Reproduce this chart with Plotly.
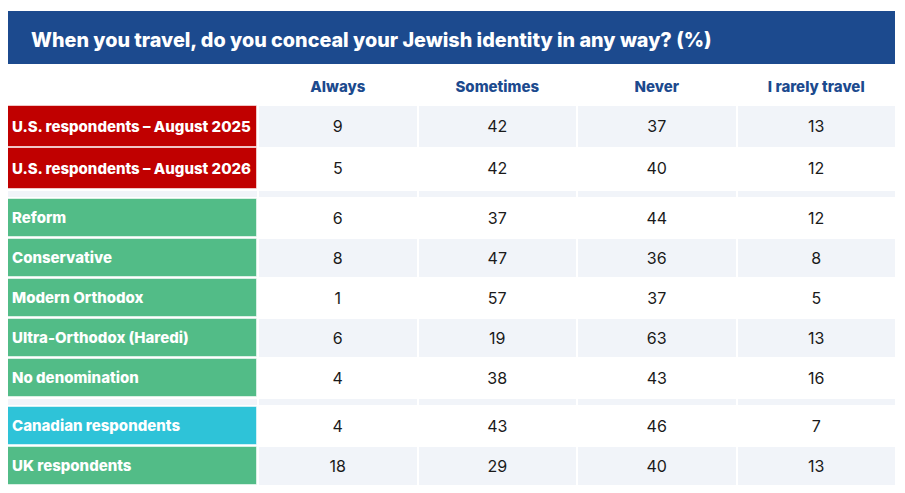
import plotly.graph_objects as go

title = "When you travel, do you conceal your Jewish identity in any way? (%)"
columns = ["Always", "Sometimes", "Never", "I rarely travel"]
row_labels = [
    "U.S. respondents – August 2025",
    "U.S. respondents – August 2026",
    "Reform",
    "Conservative",
    "Modern Orthodox",
    "Ultra-Orthodox (Haredi)",
    "No denomination",
    "Canadian respondents",
    "UK respondents",
]
row_group = [0, 0, 1, 1, 1, 1, 1, 2, 2]
always = [9, 5, 6, 8, 1, 6, 4, 4, 18]
sometimes = [42, 42, 37, 47, 57, 19, 38, 43, 29]
never = [37, 40, 44, 36, 37, 63, 43, 46, 40]
rarely = [13, 12, 12, 8, 5, 13, 16, 7, 13]
values = [always, sometimes, never, rarely]

# ── styling ────────────────────────────────────────────────────────────────
FONT = "Inter"
BLUE = "#1c4a8e"
LIGHT = "#f1f4f9"
label_colors = ["#c00000", "#c00000", "#52bc87", "#52bc87", "#52bc87",
                "#52bc87", "#52bc87", "#2ec3d8", "#52bc87"]
group_pitch = [42, 40, 40]

# page body has an 8px margin: the figure is shrunk by it and the axis ranges
# are offset so that axis units equal window pixels
PAGE_PAD = 8
W, H = 905, 493

# ── layout geometry (window pixel units on both axes) ──────────────────────
left = 7
label_w = 250
col_gap = 2
col_w = 157.5
top = 106
spacer_h = 6
text_nudge = 1.5  # text baseline sits a touch low in the cells

col_x0 = [left + label_w + col_gap + i * (col_w + col_gap) for i in range(len(columns))]
col_mid = [x + col_w / 2 for x in col_x0]

# rows + spacer strips, in drawing order
rows = []  # (kind, index, top, height)
y = top
for i, g in enumerate(row_group):
    if i > 0 and g != row_group[i - 1]:
        y_end = rows[-1][2] + rows[-1][3]
        rows.append(("spacer", None, y_end + 2, spacer_h))
        y = y_end + 2 + spacer_h + 2
    fill = group_pitch[g] - (1 if g == 0 else 2)
    rows.append(("row", i, y, fill))
    y += group_pitch[g]

centers = [r[2] + r[3] / 2 for r in rows]
heights = [r[3] for r in rows]
stripe = [LIGHT if k % 2 == 0 else "white" for k in range(len(rows))]

fig = go.Figure()

# label column
fig.add_trace(go.Bar(
    orientation="h",
    y=centers,
    x=[label_w] * len(rows),
    base=left,
    width=heights,
    marker=dict(
        color=[label_colors[r[1]] if r[0] == "row" else LIGHT for r in rows],
        line=dict(width=[1 if r[0] == "row" else 0 for r in rows],
                  color="rgba(255,255,255,0.55)"),
    ),
    hoverinfo="skip",
))

# data columns
for c, x0 in enumerate(col_x0):
    fig.add_trace(go.Bar(
        orientation="h",
        y=centers,
        x=[col_w] * len(rows),
        base=x0,
        width=heights,
        marker=dict(color=stripe, line=dict(width=0)),
        hoverinfo="skip",
    ))

data_rows = [r for r in rows if r[0] == "row"]
data_centers = [r[2] + r[3] / 2 + text_nudge for r in data_rows]

# row labels
fig.add_trace(go.Scatter(
    x=[left + 5] * len(data_rows),
    y=data_centers,
    mode="text",
    text=[row_labels[r[1]] for r in data_rows],
    textposition="middle right",
    textfont=dict(family=FONT, size=15, color="white", weight=800),
    hoverinfo="skip",
))

# cell values
for c, vals in enumerate(values):
    fig.add_trace(go.Scatter(
        x=[col_mid[c]] * len(data_rows),
        y=data_centers,
        mode="text",
        text=[str(vals[r[1]]) for r in data_rows],
        textposition="middle center",
        textfont=dict(family=FONT, size=16, color="#1a1a1a"),
        hoverinfo="skip",
    ))

# column headers
fig.add_trace(go.Scatter(
    x=col_mid,
    y=[88] * len(columns),
    mode="text",
    text=columns,
    textposition="middle center",
    textfont=dict(family=FONT, size=15, color=BLUE, weight=800),
    hoverinfo="skip",
))

# title band
fig.add_shape(type="rect", xref="x", yref="y", x0=6, x1=895, y0=11, y1=64,
              fillcolor=BLUE, line=dict(width=0), layer="below")
fig.add_annotation(x=29, y=40, xref="x", yref="y", text=title,
                   showarrow=False, xanchor="left", yanchor="middle",
                   font=dict(family=FONT, size=19.8, color="white", weight=800))

fig.update_layout(
    width=W - 2 * PAGE_PAD,
    height=H - 2 * PAGE_PAD,
    margin=dict(l=0, r=0, t=0, b=0),
    paper_bgcolor="white",
    plot_bgcolor="white",
    showlegend=False,
    barmode="overlay",
    bargap=0,
    hovermode=False,
    xaxis=dict(range=[PAGE_PAD, W - PAGE_PAD], visible=False, fixedrange=True),
    yaxis=dict(range=[H - PAGE_PAD, PAGE_PAD], visible=False, fixedrange=True),
)

fig.write_html("out.html")
